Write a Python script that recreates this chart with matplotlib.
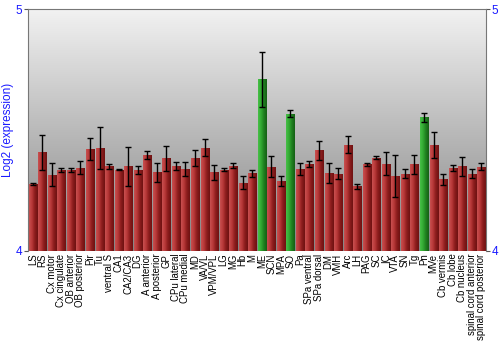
import numpy as np
import matplotlib
matplotlib.use("Agg")
import matplotlib.pyplot as plt
from matplotlib.colors import LinearSegmentedColormap

regions = ["LS", "RS", "Cx motor", "Cx cingulate", "OB anterior", "OB posterior",
           "Pir", "Tu", "ventral S", "CA1", "CA2/CA3", "DG", "A anterior",
           "A posterior", "GP", "CPu lateral", "CPu medial", "MD", "VA/VL",
           "VPM/VPL", "LG", "MG", "Hb", "M", "ME", "SCN", "MPA", "SO", "Pa",
           "SPa ventral", "SPa dorsal", "DM", "VMH", "Arc", "LH", "PAG", "SC",
           "IC", "VTA", "SN", "Tg", "Pn", "MVe", "Cb vermis", "Cb lobe",
           "Cb nucleus", "spinal cord anterior", "spinal cord posterior"]

expr = [4.278, 4.408, 4.315, 4.335, 4.335, 4.344, 4.422, 4.427, 4.350, 4.337,
        4.351, 4.336, 4.397, 4.325, 4.383, 4.353, 4.340, 4.385, 4.427, 4.325,
        4.336, 4.353, 4.283, 4.321, 4.710, 4.349, 4.289, 4.568, 4.340, 4.360,
        4.416, 4.324, 4.320, 4.440, 4.267, 4.358, 4.386, 4.362, 4.310, 4.320,
        4.358, 4.553, 4.440, 4.296, 4.343, 4.350, 4.320, 4.349]

err = [0.004, 0.073, 0.048, 0.008, 0.008, 0.027, 0.044, 0.088, 0.012, 0.002,
       0.080, 0.017, 0.015, 0.041, 0.053, 0.017, 0.028, 0.035, 0.035, 0.030,
       0.006, 0.010, 0.028, 0.014, 0.115, 0.044, 0.022, 0.015, 0.026, 0.011,
       0.041, 0.041, 0.022, 0.035, 0.010, 0.008, 0.007, 0.046, 0.088, 0.019,
       0.041, 0.017, 0.054, 0.021, 0.011, 0.039, 0.019, 0.014]

highlight = ["ME", "SO", "Pn"]

blue = "#1a1aff"
red_cm = LinearSegmentedColormap.from_list("r", ["#c85050", "#b83838", "#8a1c1c", "#6e1212"])
green_cm = LinearSegmentedColormap.from_list("g", ["#48c048", "#33aa33", "#1f7f1f", "#156015"])

fig = plt.figure(figsize=(5, 3.5), dpi=100)
ax = fig.add_axes([0.056, 0.283, 0.916, 0.69])
ymin, ymax = 4, 5
ax.set_xlim(-0.5, len(regions) - 0.5)
ax.set_ylim(ymin, ymax)

# background gradient, light at top to grey at bottom
bg = LinearSegmentedColormap.from_list("bg", ["#858585", "#bababa", "#f2f2f2"])
ax.imshow(np.linspace(0, 1, 256).reshape(-1, 1), cmap=bg, origin="lower",
          extent=[-0.5, len(regions) - 0.5, ymin, ymax], aspect="auto", zorder=0)

x = np.arange(len(regions))
grad = np.linspace(0, 1, 64).reshape(1, -1)
w = 0.84
for i, (name, v) in enumerate(zip(regions, expr)):
    cm = green_cm if name in highlight else red_cm
    bar = ax.bar(i, v - ymin, bottom=ymin, width=w, color="none",
                 edgecolor="none", zorder=1)[0]
    im = ax.imshow(grad, cmap=cm, extent=[i - w / 2, i + w / 2, ymin, v],
                   aspect="auto", zorder=1)
    im.set_clip_path(bar)

ax.errorbar(x, expr, yerr=err, fmt="none", ecolor="black", elinewidth=1,
            capsize=2, capthick=1, zorder=3)

ax.set_xticks(x)
ax.set_xticklabels(regions, rotation=90, fontsize=6.9, family="Liberation Sans")
ax.tick_params(axis="x", length=0, pad=2)

ax.set_yticks([4, 5])
ax.tick_params(axis="y", colors="#555555", labelcolor=blue, labelsize=8.5,
               length=3, right=True, labelright=True, pad=1)
for lab in ax.get_yticklabels():
    lab.set_family("Liberation Sans")
ax.set_ylabel("Log2 (expression)", color=blue, fontsize=8.5, family="Liberation Sans",
              labelpad=1)

for side in ["left", "right", "top"]:
    ax.spines[side].set_color("#777777")
ax.spines["bottom"].set_visible(False)

fig.savefig("out.png", dpi=100)
